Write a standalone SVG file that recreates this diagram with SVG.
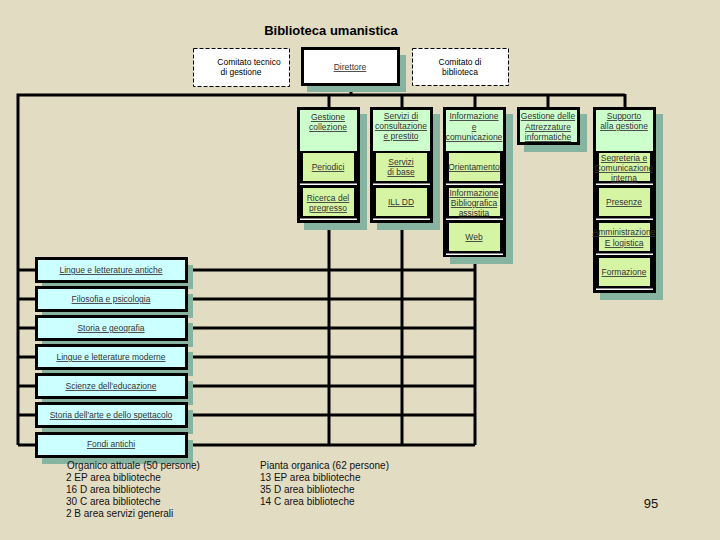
<svg xmlns="http://www.w3.org/2000/svg" width="720" height="540" viewBox="0 0 720 540">
<style>
.bg{fill:#e2dcc3}
.sh{fill:#86b4a0}
.blk{fill:#000}
.mint{fill:#ccffcc}
.sub{fill:#d5f5a5}
.cy{fill:#ccffff;stroke:#000;stroke-width:3}
.wl{fill:#ffffff}
.dash{fill:#ffffff;stroke:#000;stroke-width:1;stroke-dasharray:4,2}
.ln{stroke:#000;stroke-width:3;fill:none}
.t{font-family:"Liberation Sans",Arial,sans-serif;font-size:8.5px;fill:#333;text-anchor:middle;text-decoration:underline}
.tb{font-family:"Liberation Sans",Arial,sans-serif;font-size:8.5px;fill:#000;text-anchor:middle}
.tx{font-family:"Liberation Sans",Arial,sans-serif;font-size:10px;fill:#111}
</style>
<rect class="bg" x="0" y="0" width="720" height="540"/>
<text x="331" y="35" font-family="Liberation Sans,Arial,sans-serif" font-size="13" font-weight="bold" text-anchor="middle" fill="#000">Biblioteca umanistica</text>

<g id="connectors">
<line class="ln" x1="351" y1="84" x2="351" y2="95"/>
<polyline class="ln" points="18,445 18,95 625,95"/>
<line class="ln" x1="329" y1="95" x2="329" y2="108"/>
<line class="ln" x1="402" y1="95" x2="402" y2="108"/>
<line class="ln" x1="475" y1="95" x2="475" y2="108"/>
<line class="ln" x1="548" y1="95" x2="548" y2="108"/>
<line class="ln" x1="625" y1="94" x2="625" y2="108"/>
<line class="ln" x1="329" y1="222" x2="329" y2="445"/>
<line class="ln" x1="402" y1="222" x2="402" y2="445"/>
<line class="ln" x1="475" y1="256" x2="475" y2="445"/>
<line class="ln" x1="18" y1="270" x2="475" y2="270"/>
<line class="ln" x1="18" y1="299" x2="475" y2="299"/>
<line class="ln" x1="18" y1="328" x2="475" y2="328"/>
<line class="ln" x1="18" y1="357" x2="475" y2="357"/>
<line class="ln" x1="18" y1="386" x2="475" y2="386"/>
<line class="ln" x1="18" y1="415" x2="475" y2="415"/>
<line class="ln" x1="18" y1="445" x2="475" y2="445"/>
</g>

<g id="comitato-tecnico">
<rect class="dash" x="193.5" y="48.5" width="96" height="38"/>
<text class="tb" x="249" y="65">Comitato tecnico</text>
<text class="tb" x="241" y="75">di gestione</text>
</g>
<g id="direttore">
<rect class="sh" x="307" y="55" width="99" height="37"/>
<rect x="302.5" y="48.5" width="96" height="36" fill="#fff" stroke="#000" stroke-width="3"/>
<text class="t" x="350" y="70">Direttore</text>
</g>
<g id="comitato-biblioteca">
<rect class="dash" x="412.5" y="48.5" width="96" height="37"/>
<text class="tb" x="460" y="65">Comitato di</text>
<text class="tb" x="460" y="75">biblioteca</text>
</g>

<g id="col-gestione-collezione">
<rect class="sh" x="304" y="114" width="63" height="116"/>
<rect class="blk" x="297" y="107" width="63" height="116"/>
<rect class="mint" x="300" y="110" width="57" height="41"/>
<rect class="sub" x="303" y="153" width="51" height="28"/>
<rect class="wl" x="300" y="183.5" width="57" height="1.5"/>
<rect class="sub" x="303" y="188" width="51" height="28"/>
<rect class="wl" x="300" y="218.5" width="57" height="1.5"/>
<text class="t" x="328" y="120">Gestione</text>
<text class="t" x="328" y="130">collezione</text>
<text class="t" x="328" y="170">Periodici</text>
<text class="t" x="328" y="201">Ricerca del</text>
<text class="t" x="328" y="211">pregresso</text>
</g>

<g id="col-servizi">
<rect class="sh" x="377" y="114" width="63" height="116"/>
<rect class="blk" x="370" y="107" width="63" height="116"/>
<rect class="mint" x="373" y="110" width="57" height="41"/>
<rect class="sub" x="376" y="153" width="51" height="28"/>
<rect class="wl" x="373" y="183.5" width="57" height="1.5"/>
<rect class="sub" x="376" y="188" width="51" height="28"/>
<rect class="wl" x="373" y="218.5" width="57" height="1.5"/>
<text class="t" x="401" y="119">Servizi di</text>
<text class="t" x="401" y="129">consultazione</text>
<text class="t" x="401" y="139">e prestito</text>
<text class="t" x="401" y="165">Servizi</text>
<text class="t" x="401" y="175">di base</text>
<text class="t" x="401" y="205">ILL DD</text>
</g>

<g id="col-informazione">
<rect class="sh" x="450" y="114" width="63" height="150"/>
<rect class="blk" x="443" y="107" width="63" height="150"/>
<rect class="mint" x="446" y="110" width="57" height="41"/>
<rect class="sub" x="449" y="153" width="51" height="28"/>
<rect class="wl" x="446" y="183.5" width="57" height="1.5"/>
<rect class="sub" x="449" y="188" width="51" height="28"/>
<rect class="wl" x="446" y="218.5" width="57" height="1.5"/>
<rect class="sub" x="449" y="223" width="51" height="28"/>
<rect class="wl" x="446" y="253.5" width="57" height="1.5"/>
<text class="t" x="474" y="119">Informazione</text>
<text class="t" x="474" y="130">e</text>
<text class="t" x="474" y="140">comunicazione</text>
<text class="t" x="474" y="170">Orientamento</text>
<text class="t" x="474" y="196">Informazione</text>
<text class="t" x="474" y="206">Bibliografica</text>
<text class="t" x="474" y="216">assistita</text>
<text class="t" x="474" y="240">Web</text>
</g>

<g id="col-attrezzature">
<rect class="sh" x="524" y="114" width="63" height="38"/>
<rect x="518.5" y="108.5" width="60" height="35" fill="#ccffcc" stroke="#000" stroke-width="3"/>
<text class="t" x="548" y="119">Gestione delle</text>
<text class="t" x="548" y="130">Attrezzature</text>
<text class="t" x="548" y="140">informatiche</text>
</g>

<g id="col-supporto">
<rect class="sh" x="600" y="114" width="63" height="186"/>
<rect class="blk" x="593" y="107" width="63" height="186"/>
<rect class="mint" x="596" y="110" width="57" height="41"/>
<rect class="sub" x="599" y="153" width="51" height="28"/>
<rect class="wl" x="596" y="183.5" width="57" height="1.5"/>
<rect class="sub" x="599" y="188" width="51" height="28"/>
<rect class="wl" x="596" y="218.5" width="57" height="1.5"/>
<rect class="sub" x="599" y="223" width="51" height="28"/>
<rect class="wl" x="596" y="253.5" width="57" height="1.5"/>
<rect class="sub" x="599" y="258" width="51" height="28"/>
<rect class="wl" x="596" y="288.5" width="57" height="1.5"/>
<text class="t" x="624" y="119">Supporto</text>
<text class="t" x="624" y="129">alla gestione</text>
<text class="t" x="624" y="161">Segreteria e</text>
<text class="t" x="624" y="171">Comunicazione</text>
<text class="t" x="624" y="181">interna</text>
<text class="t" x="624" y="205">Presenze</text>
<text class="t" x="624" y="235">Amministrazione</text>
<text class="t" x="624" y="246">E logistica</text>
<text class="t" x="624" y="275">Formazione</text>
</g>

<g id="dip-lingue-antiche"><rect class="sh" x="42" y="265" width="151" height="24"/><rect class="cy" x="36.5" y="258.5" width="150" height="23"/><text class="t" x="111" y="273">Lingue e letterature antiche</text></g>
<g id="dip-filosofia"><rect class="sh" x="42" y="294" width="151" height="24"/><rect class="cy" x="36.5" y="287.5" width="150" height="23"/><text class="t" x="111" y="302">Filosofia e psicologia</text></g>
<g id="dip-storia"><rect class="sh" x="42" y="323" width="151" height="24"/><rect class="cy" x="36.5" y="316.5" width="150" height="23"/><text class="t" x="111" y="331">Storia e geografia</text></g>
<g id="dip-lingue-moderne"><rect class="sh" x="42" y="352" width="151" height="24"/><rect class="cy" x="36.5" y="345.5" width="150" height="23"/><text class="t" x="111" y="360">Lingue e letterature moderne</text></g>
<g id="dip-educazione"><rect class="sh" x="42" y="381" width="151" height="24"/><rect class="cy" x="36.5" y="374.5" width="150" height="23"/><text class="t" x="111" y="389">Scienze dell'educazione</text></g>
<g id="dip-arte"><rect class="sh" x="42" y="410" width="151" height="24"/><rect class="cy" x="36.5" y="403.5" width="150" height="23"/><text class="t" x="111" y="418">Storia dell'arte e dello spettacolo</text></g>
<g id="dip-fondi"><rect class="sh" x="42" y="440" width="151" height="24"/><rect class="cy" x="36.5" y="433.5" width="150" height="23"/><text class="t" x="111" y="447">Fondi antichi</text></g>

<g id="organico">
<text class="tx" x="67" y="469">Organico attuale (50 persone)</text>
<text class="tx" x="66" y="481">2 EP area biblioteche</text>
<text class="tx" x="66" y="493">16 D area biblioteche</text>
<text class="tx" x="66" y="505">30 C area biblioteche</text>
<text class="tx" x="66" y="517">2 B area servizi generali</text>
</g>
<g id="pianta">
<text class="tx" x="260" y="469">Pianta organica (62 persone)</text>
<text class="tx" x="260" y="481">13 EP area biblioteche</text>
<text class="tx" x="260" y="493">35 D area biblioteche</text>
<text class="tx" x="260" y="505">14 C area biblioteche</text>
</g>
<text x="651" y="508" font-family="Liberation Sans,Arial,sans-serif" font-size="13" text-anchor="middle" fill="#111">95</text>
</svg>
